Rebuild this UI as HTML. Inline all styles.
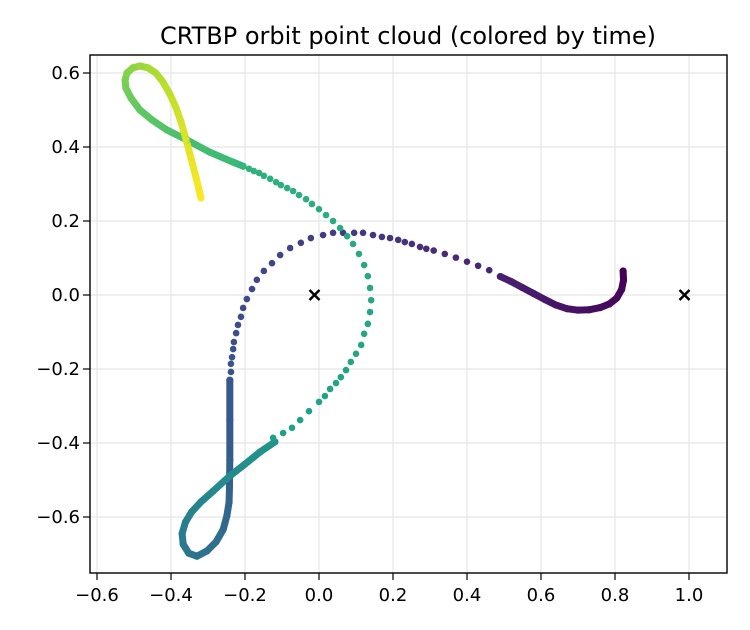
<!DOCTYPE html>
<html><head><meta charset="utf-8"><style>
body{margin:0;background:#fff;}
svg{display:block;font-family:"DejaVu Sans","Liberation Sans",sans-serif;}
</style></head><body>
<svg id="chart" width="750" height="630" viewBox="0 0 750 630" xmlns="http://www.w3.org/2000/svg">
<rect width="750" height="630" fill="#fff"/>
<text x="408" y="44" text-anchor="middle" font-size="24" fill="#000">CRTBP orbit point cloud (colored by time)</text>
<g id="grid"></g><g id="marks"></g><g id="axes"></g>
</svg>
<script>
const xTicks=[-0.6,-0.4,-0.2,0.0,0.2,0.4,0.6,0.8,1.0];
const yTicks=[-0.6,-0.4,-0.2,0.0,0.2,0.4,0.6];
const xTickLabels=["\u22120.6","\u22120.4","\u22120.2","0.0","0.2","0.4","0.6","0.8","1.0"];
const yTickLabels=["\u22120.6","\u22120.4","\u22120.2","0.0","0.2","0.4","0.6"];
const primaries=[[-0.01215,0],[0.98785,0]];
// segment 1: slow start (dense, purple)
const seg1X=[0.822,0.823,0.818,0.805,0.785,0.760,0.730,0.700,0.670,0.640,0.610,0.580,0.550,0.520,0.490];
const seg1Y=[0.065,0.040,0.015,-0.008,-0.024,-0.034,-0.040,-0.041,-0.037,-0.027,-0.012,0.004,0.020,0.036,0.050];
// segment 2: sparse purple/blue arc
const seg2X=[0.460,0.430,0.400,0.370,0.340,0.310,0.290,0.273,0.251,0.232,0.214,0.192,0.170,0.146,0.119,0.095,0.065,0.038,0.011,-0.022,-0.049,-0.078,-0.105,-0.127,-0.149,-0.168,-0.181,-0.195,-0.205,-0.211,-0.219,-0.224,-0.230,-0.232,-0.235,-0.238,-0.238];
const seg2Y=[0.067,0.079,0.090,0.101,0.111,0.120,0.125,0.130,0.138,0.143,0.149,0.154,0.157,0.162,0.168,0.168,0.168,0.168,0.162,0.154,0.141,0.127,0.108,0.086,0.065,0.041,0.016,-0.011,-0.035,-0.059,-0.081,-0.103,-0.127,-0.146,-0.168,-0.186,-0.208];
// segment 3: dense lower loop
const seg3X=[-0.241,-0.241,-0.241,-0.242,-0.243,-0.249,-0.259,-0.278,-0.303,-0.330,-0.352,-0.367,-0.370,-0.361,-0.344,-0.319,-0.286,-0.241,-0.200,-0.159,-0.119];
const seg3Y=[-0.230,-0.338,-0.446,-0.520,-0.560,-0.597,-0.634,-0.667,-0.692,-0.706,-0.698,-0.674,-0.645,-0.614,-0.586,-0.559,-0.530,-0.489,-0.457,-0.424,-0.397];
// segment 4: sparse green arc
const seg4X=[-0.124,-0.097,-0.073,-0.051,-0.027,0.000,0.016,0.030,0.046,0.059,0.073,0.086,0.100,0.114,0.122,0.132,0.138,0.141,0.138,0.132,0.122,0.108,0.092,0.076,0.057,0.038,0.019,0.000,-0.019,-0.035,-0.054,-0.070,-0.086,-0.103,-0.116,-0.132,-0.149,-0.162,-0.176,-0.189];
const seg4Y=[-0.386,-0.373,-0.359,-0.338,-0.314,-0.289,-0.273,-0.254,-0.238,-0.222,-0.203,-0.181,-0.159,-0.135,-0.105,-0.078,-0.046,-0.014,0.019,0.051,0.081,0.111,0.138,0.159,0.181,0.200,0.216,0.232,0.246,0.259,0.270,0.281,0.289,0.297,0.305,0.314,0.322,0.330,0.335,0.341];
// segment 5: dense upper loop to end (yellow)
const seg5X=[-0.205,-0.232,-0.295,-0.357,-0.411,-0.451,-0.484,-0.508,-0.522,-0.524,-0.519,-0.503,-0.484,-0.462,-0.441,-0.422,-0.403,-0.386,-0.373,-0.359,-0.346,-0.332,-0.319];
const seg5Y=[0.348,0.359,0.386,0.419,0.446,0.473,0.500,0.532,0.559,0.581,0.600,0.614,0.619,0.614,0.600,0.576,0.543,0.505,0.468,0.419,0.370,0.316,0.262];
const segTimes=[[0,0.09],[0.10,0.26],[0.27,0.52],[0.56,0.64],[0.66,1.0]];

const X0=90,X1=727,Y0=55,Y1=573;
const xmin=-0.6+(-7/370),xmax=xmin+(X1-X0)/370;
const ymax=0.6+18/370,ymin=ymax-(Y1-Y0)/370;
const sx=v=>X0+(v-xmin)/(xmax-xmin)*(X1-X0);
const sy=v=>Y0+(ymax-v)/(ymax-ymin)*(Y1-Y0);
const NS="http://www.w3.org/2000/svg";
const vir=[[68,1,84],[72,40,120],[62,74,137],[49,104,142],[38,130,142],[31,158,137],[53,183,121],[109,205,89],[180,222,44],[253,231,37]];
function viridis(t){t=Math.max(0,Math.min(1,t));const f=t*(vir.length-1),i=Math.min(vir.length-2,Math.floor(f)),u=f-i;
const c=vir[i].map((a,k)=>Math.round(a+(vir[i+1][k]-a)*u));return`rgb(${c[0]},${c[1]},${c[2]})`;}
const grid=document.getElementById('grid'),marks=document.getElementById('marks'),axes=document.getElementById('axes');
xTicks.forEach((v,i)=>{const x=sx(v);
const g=document.createElementNS(NS,'line');g.setAttribute('x1',x);g.setAttribute('x2',x);g.setAttribute('y1',Y0);g.setAttribute('y2',Y1);g.setAttribute('stroke','#e5e5e5');g.setAttribute('stroke-width','1.2');


grid.appendChild(g);
const t=document.createElementNS(NS,'line');t.setAttribute('x1',x);t.setAttribute('x2',x);t.setAttribute('y1',Y1);t.setAttribute('y2',Y1+7);t.setAttribute('stroke','#000');t.setAttribute('stroke-width','1.2');


axes.appendChild(t);
const l=document.createElementNS(NS,'text');l.setAttribute('x',x);l.setAttribute('y',Y1+28);l.setAttribute('text-anchor','middle');l.setAttribute('font-size','18');l.textContent=xTickLabels[i];


axes.appendChild(l);});
yTicks.forEach((v,i)=>{const y=sy(v);
const g=document.createElementNS(NS,'line');g.setAttribute('x1',X0);g.setAttribute('x2',X1);g.setAttribute('y1',y);g.setAttribute('y2',y);g.setAttribute('stroke','#e5e5e5');g.setAttribute('stroke-width','1.2');


grid.appendChild(g);
const t=document.createElementNS(NS,'line');t.setAttribute('x1',X0-7);t.setAttribute('x2',X0);t.setAttribute('y1',y);t.setAttribute('y2',y);t.setAttribute('stroke','#000');t.setAttribute('stroke-width','1.2');


axes.appendChild(t);
const l=document.createElementNS(NS,'text');l.setAttribute('x',X0-10);l.setAttribute('y',y+6);l.setAttribute('text-anchor','end');l.setAttribute('font-size','18');l.textContent=yTickLabels[i];


axes.appendChild(l);});
const frame=document.createElementNS(NS,'rect');frame.setAttribute('x',X0);frame.setAttribute('y',Y0);frame.setAttribute('width',X1-X0);frame.setAttribute('height',Y1-Y0);frame.setAttribute('fill','none');frame.setAttribute('stroke','#000');frame.setAttribute('stroke-width','1.4');


axes.appendChild(frame);
const segs=[[seg1X,seg1Y,true],[seg2X,seg2Y,false],[seg3X,seg3Y,true],[seg4X,seg4Y,false],[seg5X,seg5Y,true]];
segs.forEach((s,k)=>{const [xs,ys,dense]=s,[ta,tb]=segTimes[k],n=xs.length;
const col=i=>viridis(ta+(tb-ta)*(n>1?i/(n-1):0));
if(dense){for(let i=0;i<n-1;i++){const ln=document.createElementNS(NS,'line');
ln.setAttribute('x1',sx(xs[i]));ln.setAttribute('y1',sy(ys[i]));ln.setAttribute('x2',sx(xs[i+1]));ln.setAttribute('y2',sy(ys[i+1]));
ln.setAttribute('stroke',col(i+0.5));ln.setAttribute('stroke-width','7');ln.setAttribute('stroke-linecap','round');


marks.appendChild(ln);}}
for(let i=0;i<n;i++){const c=document.createElementNS(NS,'circle');c.setAttribute('cx',sx(xs[i]));c.setAttribute('cy',sy(ys[i]));c.setAttribute('r',dense?'3.5':'3.3');c.setAttribute('fill',col(i));


marks.appendChild(c);}});
primaries.forEach(p=>{const x=sx(p[0]),y=sy(p[1]);
const m=document.createElementNS(NS,'path');m.setAttribute('d',`M${x-5},${y-5}L${x+5},${y+5}M${x-5},${y+5}L${x+5},${y-5}`);m.setAttribute('stroke','#000');m.setAttribute('stroke-width','2.5');


marks.appendChild(m);});
</script>
</body></html>
